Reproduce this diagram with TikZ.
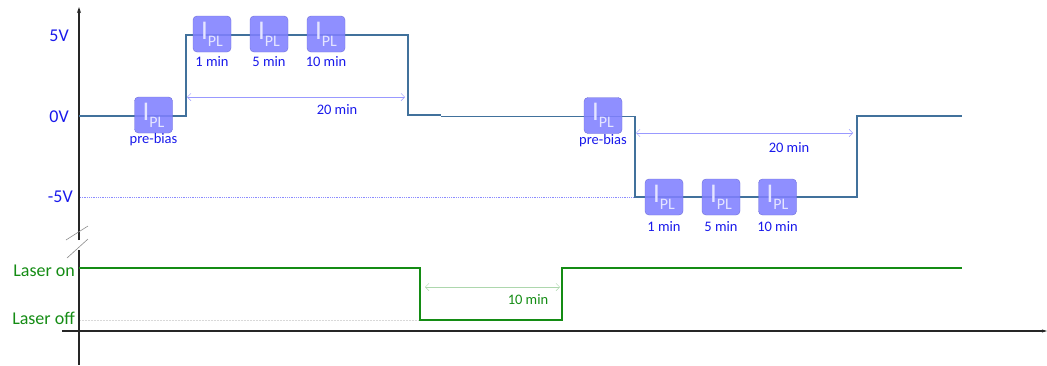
\documentclass[tikz,border=0pt]{standalone}
\usepackage{fontspec}
\setmainfont{Carlito}
\usetikzlibrary{arrows.meta, positioning}
\definecolor{biasblue}{RGB}{65,113,156}
\definecolor{lblblue}{RGB}{25,25,235}
\definecolor{boxblue}{RGB}{128,128,255}
\definecolor{lasergreen}{RGB}{20,140,20}
\tikzset{
  iplbox/.style={draw=boxblue!85!black, fill=boxblue, fill opacity=0.88, text opacity=1,
      rounded corners=4pt, minimum width=38pt, minimum height=36pt, inner sep=0pt, text=white!90!blue},
  timelbl/.style={font=\fontsize{14.5}{14.5}\selectfont, text=lblblue, inner sep=0pt},
  axlbl/.style={font=\fontsize{18}{18}\selectfont, anchor=east, inner sep=0pt},
  dimarrow/.style={{Straight Barb[length=1.3mm]}-{Straight Barb[length=1.3mm]}, line width=0.5pt, draw=#1},
  axisline/.style={line width=1.2pt, black!85},
}
\newcommand{\ipl}{{\fontsize{27}{27}\selectfont I}\raisebox{-7pt}{\fontsize{16}{16}\selectfont PL}}

\begin{document}
\begin{tikzpicture}[x=1pt, y=-1pt]
        \useasboundingbox (0,0) rectangle (1047,365);
        % axes
        \coordinate (ytop) at (79,7);
        \coordinate (ybrk) at (79,240);
        \coordinate (ybrk2) at (79,250);
        \coordinate (ybot) at (79,365);
        \coordinate (xleft) at (62,331);
        \coordinate (xright) at (1047,331);
        \draw[axisline, -{Stealth[length=6pt, width=4pt]}] (ybrk) -- (ytop);
        \draw[axisline] (ybrk2) -- (ybot);
        \draw[axisline, -{Stealth[length=5pt, width=3pt]}] (xleft) -- (xright);
        \draw[black!45, line width=0.6pt] (66,240) -- (88,226);
        \draw[black!45, line width=0.6pt] (67,258) -- (88,239);
        % level labels
        \node[axlbl, text=lblblue] (v5) at (69,36) {5V};
        \node[axlbl, text=lblblue] (v0) at (69,117) {0V};
        \node[axlbl, text=lblblue] (vm5) at (73,197) {-5V};
        \node[axlbl, text=lasergreen] (lon) at (75,271) {Laser on};
        \node[axlbl, text=lasergreen] (loff) at (75,318) {Laser off};
        % guide lines
        \draw[blue!45, densely dotted, line width=0.8pt] (80,197) -- (635,197);
        \draw[black!15, densely dotted, line width=0.5pt] (80,320) -- (420,320);
        % bias waveform
        \draw[biasblue, line width=1.5pt] (79,116) -- (186,116) -- (186,35) -- (408,35) -- (408,115) -- (441,115);
        \draw[biasblue, line width=1.5pt] (441,116.5) -- (635,116.5) -- (635,197) -- (857,197) -- (857,116) -- (962,116);
        % laser waveform
        \draw[lasergreen, line width=1.4pt] (79,268) -- (420,268) -- (420,320) -- (562,320) -- (562,268) -- (962,268);
        % I_PL boxes, positive bias
        \node[iplbox] (pb1) at (153.5,115) {\ipl};
        \node[iplbox] (ip1) at (212,34) {\ipl};
        \node[iplbox] (ip5) at (269,34) {\ipl};
        \node[iplbox] (ip10) at (326,34) {\ipl};
        \node[timelbl, below=0pt of pb1] (pb1l) {pre-bias};
        \node[timelbl, below=4pt of ip1] (ip1l) {1 min};
        \node[timelbl, below=4pt of ip5] (ip5l) {5 min};
        \node[timelbl, below=4pt of ip10] (ip10l) {10 min};
        % I_PL boxes, negative bias
        \node[iplbox] (pb2) at (603,115.5) {\ipl};
        \node[iplbox] (in1) at (664,197) {\ipl};
        \node[iplbox] (in5) at (721,197) {\ipl};
        \node[iplbox] (in10) at (777.5,197) {\ipl};
        \node[timelbl, below=1pt of pb2] (pb2l) {pre-bias};
        \node[timelbl, below=6pt of in1] (in1l) {1 min};
        \node[timelbl, below=6pt of in5] (in5l) {5 min};
        \node[timelbl, below=6pt of in10] (in10l) {10 min};
        % durations
        \coordinate (d1a) at (187,97);
        \coordinate (d1b) at (405,97);
        \coordinate (d2a) at (636,133);
        \coordinate (d2b) at (853,133);
        \coordinate (d3a) at (425,287);
        \coordinate (d3b) at (560,287);
        \draw[dimarrow=boxblue!80] (d1a) -- (d1b);
        \draw[dimarrow=boxblue!80] (d2a) -- (d2b);
        \draw[dimarrow=lasergreen!35] (d3a) -- (d3b);
        \node[timelbl] (t1) at (337,110) {20 min};
        \node[timelbl] (t2) at (789,148) {20 min};
        \node[timelbl, text=lasergreen] (t3) at (528,300) {10 min};
      \end{tikzpicture}
\end{document}
